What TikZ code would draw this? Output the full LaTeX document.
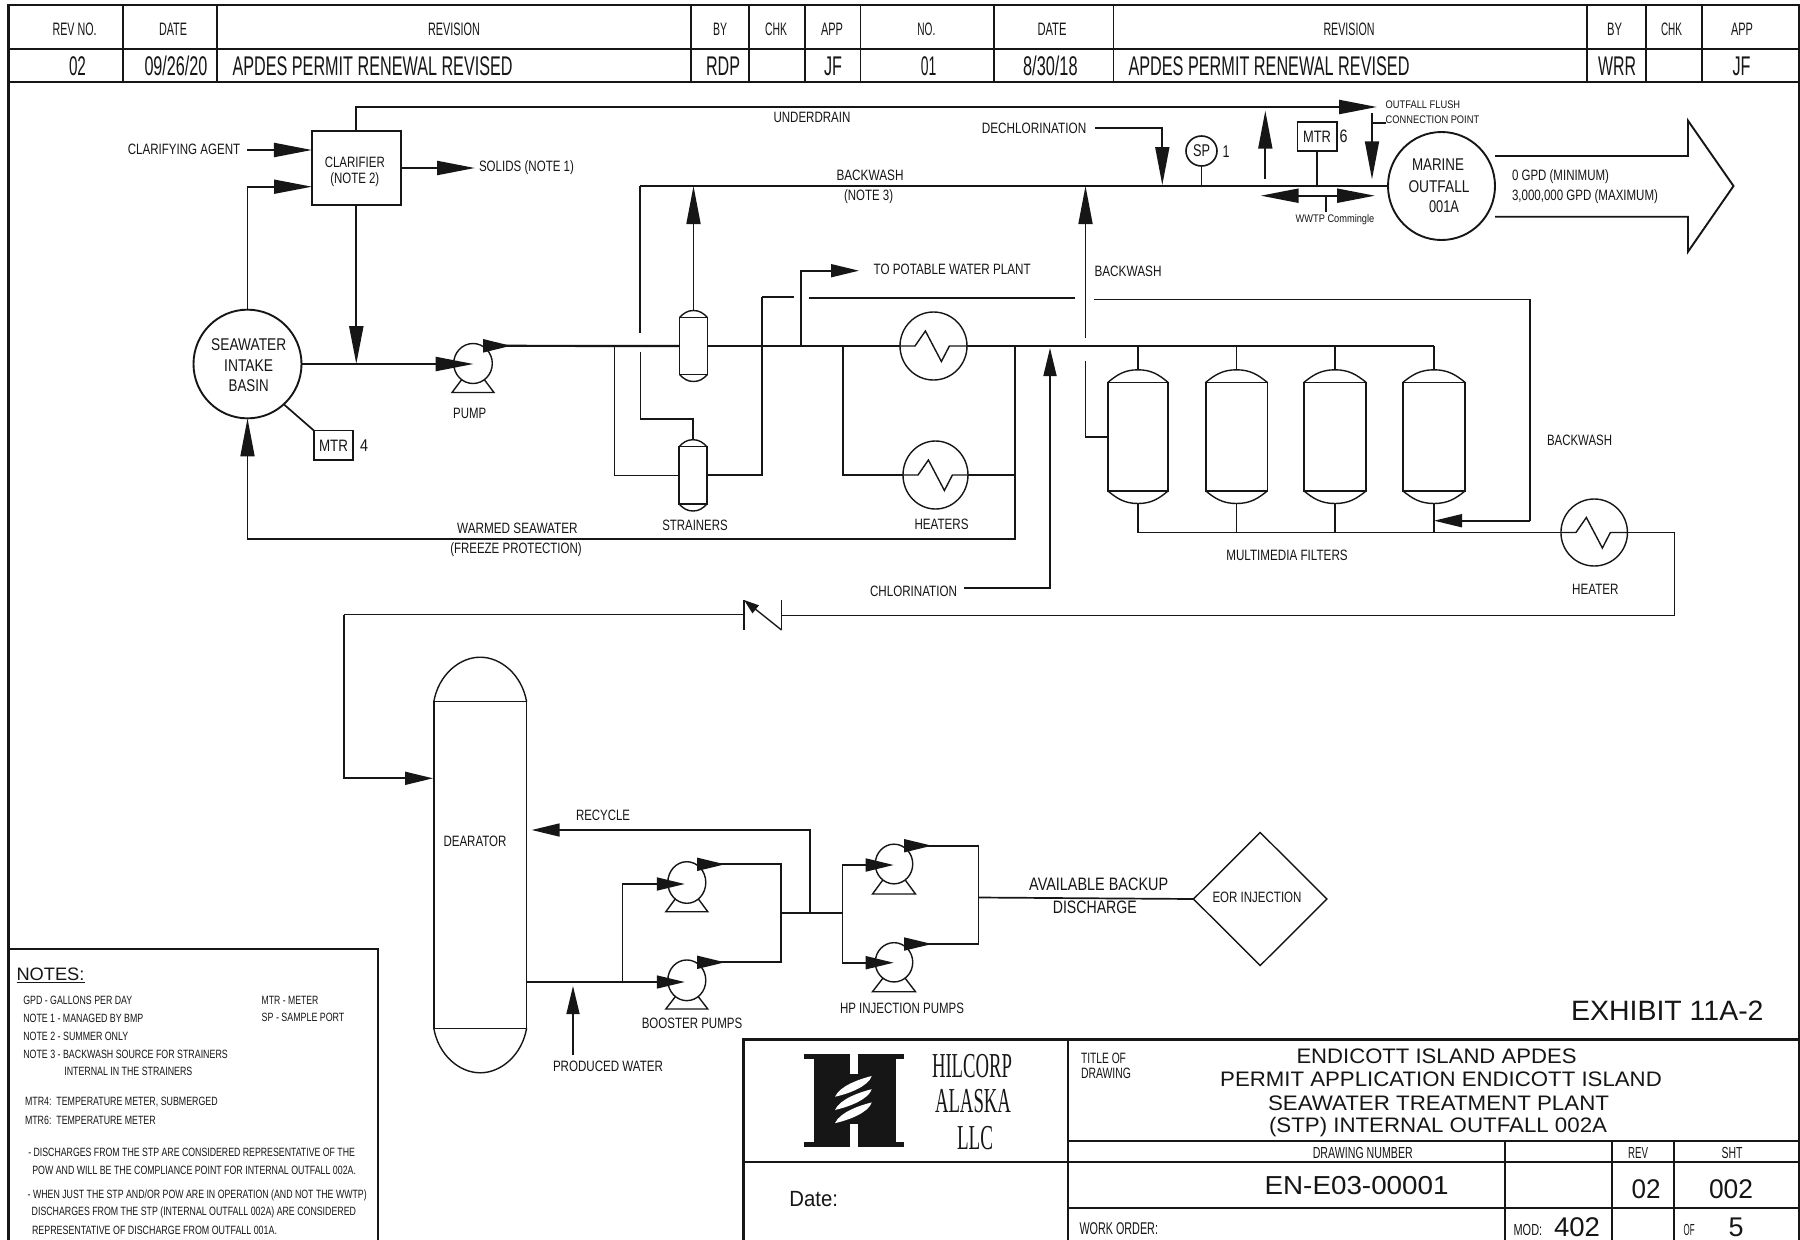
\documentclass[tikz,border=0pt]{standalone}
\usepackage{fontspec}
\usepackage{graphicx}
\usetikzlibrary{arrows.meta,shapes.geometric,calc}
\setmainfont{Liberation Sans}
\newfontfamily\logofont{Liberation Serif}
\definecolor{ink}{HTML}{161616}
\newcommand{\fs}[1]{\fontsize{#1}{#1}\selectfont}
\newcommand{\fw}[2]{\resizebox{#1pt}{\height}{#2}}
% \lb[options]{name}{x,y}{width}{text}
\newcommand{\lb}[5][]{\node[lbl,#1] (#2) at (#3) {\fw{#4}{#5}};}
% \vesselshape[shoulder]{name}{cx}{ytop}{ybot}{halfwidth}{dome}
\newcommand{\vesselshape}[6][0.3]{%
  \pgfmathsetmacro\vcy{(#4+#5)/2}\pgfmathsetmacro\vh{#5-#4}\pgfmathsetmacro\vw{2*#6}%
  \pgfmathsetmacro\cxa{#1*#6}\pgfmathsetmacro\cxb{0.45*#6}%
  \node[vesselbody,minimum width=\vw pt,minimum height=\vh pt] (#2) at (#3,\vcy) {};
  \vesseldomes{#2}{#3}{#4}{#5}
}
\newcommand{\domeh}{12.5}
\newcommand{\vesseldomes}[4]{%
  \pgfmathsetmacro\vt{#3-\domeh}\pgfmathsetmacro\vb{#4+\domeh}\pgfmathsetmacro\cy{0.6*\domeh}%
  \coordinate (#1top) at (#2,\vt);
  \coordinate (#1bot) at (#2,\vb);
  \draw[equip] (#1.north west) .. controls +(\cxa,-\cy) and +(-\cxb,0) .. (#1top)
     .. controls +(\cxb,0) and +(-\cxa,-\cy) .. (#1.north east);
  \draw[equip] (#1.south west) .. controls +(\cxa,\cy) and +(-\cxb,0) .. (#1bot)
     .. controls +(\cxb,0) and +(-\cxa,\cy) .. (#1.south east);
}
% \heatx{name}{cx}{cy}{w}{h}
\newcommand{\heatx}[5]{%
  \node[equipe,minimum width=#4pt,minimum height=#5pt] (#1) at (#2,#3) {};
  \draw[equip] (#1.west) -- ++(15,0) -- ++(10.4,-15) -- ++(16,30.5) -- ++(8,-15.5) -- (#1.east);
}
% \pumpshape{name}{cx}{cy}{w}{h}{basey offset}{half base}
\newcommand{\pumpshape}[7]{%
  \node[equipe,minimum width=#4pt,minimum height=#5pt] (#1) at (#2,#3) {};
  \draw[equip] (#1.235) -- ($(#1.center)+(-#7,#6)$) -- ($(#1.center)+(#7,#6)$) -- (#1.305);
}
\tikzset{
  x=1pt,y=-1pt,
  pipe/.style={draw=ink,line width=1.7pt},
  pipeh/.style={draw=ink,line width=2.2pt},
  equip/.style={draw=ink,line width=1.4pt},
  equipe/.style={draw=ink,line width=1.4pt,ellipse,inner sep=0pt,outer sep=0pt},
  vesselbody/.style={draw=ink,line width=1.4pt,rectangle,inner sep=0pt,outer sep=0pt},
  boxnode/.style={draw=ink,line width=1.8pt,rectangle,inner sep=0pt,outer sep=0pt,align=center},
  bigcirc/.style={draw=ink,line width=1.9pt,ellipse,inner sep=0pt,outer sep=0pt},
  gridline/.style={draw=ink,line width=1.8pt},
  gridheavy/.style={draw=ink,line width=2.4pt},
  lbl/.style={inner sep=0pt,outer sep=0pt,text=ink,font=\fs{15}},
  lft/.style={anchor=west},
  tipl/.style={-{Triangle[length=38pt,width=14pt,color=ink]}},
  tipm/.style={-{Triangle[length=28pt,width=13pt,color=ink]}},
  tips/.style={-{Triangle[length=15pt,width=10pt,color=ink]}},
}
\begin{document}
\begin{tikzpicture}
\useasboundingbox (0,0) rectangle (1800,1240);
\fill[white] (0,0) rectangle (1800,1240);
\clip (0,0) rectangle (1800,1240);

%%% frame and revision table
\draw[gridheavy] (8.6,1240) -- (8.6,5) -- (1799,5) -- (1799,1240);
\draw[gridheavy] (8.6,49) -- (1799,49);
\draw[gridheavy] (8.6,82) -- (1799,82);
\foreach \xx in {123,217,691,749,805,860.5,993.6,1113.5,1587,1645.7,1702}
  \draw[gridline] (\xx,5) -- (\xx,82);
\lb[font=\fs{18}]{hA}{74.6,29}{44}{REV NO.}
\lb[font=\fs{18}]{hB}{173,29}{28}{DATE}
\lb[font=\fs{18}]{hC}{454,29}{52}{REVISION}
\lb[font=\fs{18}]{hD}{720,29}{14}{BY}
\lb[font=\fs{18}]{hE}{776,29}{22}{CHK}
\lb[font=\fs{18}]{hF}{832,29}{22}{APP}
\lb[font=\fs{18}]{hG}{926.4,29}{18}{NO.}
\lb[font=\fs{18}]{hH}{1052,29}{29}{DATE}
\lb[font=\fs{18}]{hI}{1349,29}{51}{REVISION}
\lb[font=\fs{18}]{hJ}{1614.7,29}{15}{BY}
\lb[font=\fs{18}]{hK}{1671.5,29}{21}{CHK}
\lb[font=\fs{18}]{hL}{1742,29}{22}{APP}
\lb[font=\fs{27}]{rA}{77.5,66}{17}{02}
\lb[font=\fs{27}]{rB}{176,66}{63}{09/26/20}
\lb[font=\fs{27}]{rC}{372.6,66}{280}{APDES PERMIT RENEWAL REVISED}
\lb[font=\fs{27}]{rD}{723,66}{34}{RDP}
\lb[font=\fs{27}]{rE}{833,66}{18}{JF}
\lb[font=\fs{27}]{rF}{928.7,66}{15.5}{01}
\lb[font=\fs{27}]{rG}{1050.4,66}{54.5}{8/30/18}
\lb[font=\fs{27}]{rH}{1269,66}{281}{APDES PERMIT RENEWAL REVISED}
\lb[font=\fs{27}]{rI}{1617,66}{38}{WRR}
\lb[font=\fs{27}]{rJ}{1741.6,66}{18}{JF}

%%% equipment
\node[boxnode,minimum width=88.7pt,minimum height=74.6pt] (clarifier) at (356.3,168) {};
\node[bigcirc,minimum width=108pt,minimum height=108.7pt] (seawater) at (247.5,364) {};
\node[bigcirc,minimum width=107pt,minimum height=108pt] (marine) at (1441.5,186) {};
\node[boxnode,line width=1.6pt,minimum width=39pt,minimum height=29.5pt] (mtrfour) at (333.5,445.4) {};
\node[boxnode,line width=1.6pt,minimum width=39.4pt,minimum height=29.5pt] (mtrsix) at (1317,136.5) {};
\node[equipe,line width=1.6pt,minimum width=31pt,minimum height=30pt] (spport) at (1201.5,151) {};
\node[draw=ink,line width=1.4pt,diamond,inner sep=0pt,outer sep=0pt,aspect=1,minimum width=133.5pt,minimum height=133pt] (eor) at (1260.2,899) {};

\pumpshape{pumpA}{473}{363.5}{38.6}{40}{29}{21}
\pumpshape{boostA}{686.8}{882.5}{38}{41.6}{29.2}{21}
\pumpshape{boostB}{686.8}{980.3}{38}{40.7}{28.7}{21}
\pumpshape{hpA}{894}{864}{37.5}{39.7}{30}{21.5}
\pumpshape{hpB}{894}{962.3}{37.5}{39.3}{29.4}{21.5}

\renewcommand{\domeh}{6.8}
\vesselshape{strainerA}{693.5}{317.3}{374.7}{13.8}
\renewcommand{\domeh}{7}
\vesselshape{strainerB}{693}{446.7}{504}{14}
\renewcommand{\domeh}{12.5}
\vesselshape{filterA}{1138}{382.3}{491}{30}
\vesselshape{filterB}{1236.5}{382.3}{491}{30.7}
\vesselshape{filterC}{1335}{382.3}{491}{31}
\vesselshape{filterD}{1434}{382.3}{491}{31}
\renewcommand{\domeh}{44.5}
\vesselshape[0.1]{dearator}{480.2}{701.7}{1028.3}{46.4}

\heatx{heaterA}{933.5}{346}{67}{68}
\heatx{heaterB}{935.5}{475}{65}{68}
\heatx{heaterC}{1594.2}{532.5}{66.5}{67}

%%% named points of the pipe work
\coordinate (ud) at (1377,107);
\coordinate (agent) at (247,150);
\coordinate (clin) at (312,186.7);
\coordinate (solidsa) at (400.7,168);
\coordinate (solidsb) at (475,168);
\coordinate (pumpin) at (473.6,364);
\coordinate (pumpouts) at (484,345.8);
\coordinate (pumpout) at (511,345.8);
\coordinate (mainend) at (1434,346);
\coordinate (jbypass) at (614.4,346);
\coordinate (bwl) at (640,186);
\coordinate (bwlgap) at (640,333);
\coordinate (bwlres) at (640.5,351.5);
\coordinate (stbk) at (693,419.3);
\coordinate (jst) at (762.3,297);
\coordinate (gapa) at (794,297);
\coordinate (gapb) at (809.4,298);
\coordinate (gapc) at (1075,298);
\coordinate (gapd) at (1094,299.5);
\coordinate (rcorner) at (1530,520.7);
\coordinate (fdin) at (1434,520.7);
\coordinate (jpot) at (800.8,346);
\coordinate (potable) at (859,270.7);
\coordinate (jhtr) at (843,346);
\coordinate (jwarm) at (1015,346);
\coordinate (warmc) at (1015,539.3);
\coordinate (chl) at (964,587.7);
\coordinate (chlt) at (1050,348);
\coordinate (bwcup) at (1085.5,338);
\coordinate (bwcres) at (1085.5,361);
\coordinate (dcl) at (1095,128);
\coordinate (dclt) at (1162.3,185);
\coordinate (upa) at (1265.3,179);
\coordinate (upb) at (1265.3,110.7);
\coordinate (fla) at (1372,113);
\coordinate (flb) at (1372,179.3);
\coordinate (flc) at (1372,122.7);
\coordinate (fld) at (1385.7,122.7);
\coordinate (wwm) at (1318,195.7);
\coordinate (wwl) at (1260.7,195.7);
\coordinate (wwr) at (1375,195.7);
\coordinate (wwc) at (1326,195.7);
\coordinate (wwd) at (1326,212);
\coordinate (cvrt) at (781.5,600);
\coordinate (cvrb) at (781.5,630);
\coordinate (cvlt) at (744,600);
\coordinate (cvlb) at (744,630);
\coordinate (cvr) at (781.5,615.5);
\coordinate (cvl) at (744,614.5);
\coordinate (rtlow) at (1674.5,615.5);
\coordinate (dlc) at (344,614.5);
\coordinate (dearin) at (433,778.3);
\coordinate (dearout) at (526.5,982);
\coordinate (bBin) at (684.8,982);
\coordinate (jb) at (622.4,982);
\coordinate (bAin) at (684.8,884);
\coordinate (bAs) at (698,864.3);
\coordinate (bAo) at (725,864.3);
\coordinate (bBs) at (698,962.3);
\coordinate (bBo) at (725,962.3);
\coordinate (jm) at (780.7,913.3);
\coordinate (jh) at (842.5,913.3);
\coordinate (jr) at (810,913.3);
\coordinate (rec) at (531.7,830);
\coordinate (hAin) at (893.7,865);
\coordinate (hBin) at (893.7,962.7);
\coordinate (hAs) at (905,845.7);
\coordinate (hAo) at (932,845.7);
\coordinate (hBs) at (905,944);
\coordinate (hBo) at (932,944);
\coordinate (je) at (978.5,897.5);
\coordinate (prs) at (573,1055);
\coordinate (prt) at (573,986);

%%% connectors, upper part
\draw[pipeh,tipl] (clarifier.north) |- (ud);
\draw[pipeh,tipl] (agent) -- (agent -| clarifier.west);
\draw[pipe,tipl] (seawater.north) |- (clin);
\draw[pipeh,tipl] (solidsa) -- (solidsb);
\draw[pipeh,tipl] (clarifier.south) -- (clarifier.south |- pumpin);
\draw[pipeh,tipl] (seawater.east) -- (pumpin);
\draw[pipeh] (pumpouts) -- (strainerA.west);
\draw[pipeh,tipm] (pumpouts) -- (pumpout);
\draw[pipe] (strainerA.east) -- (heaterA.west);
\draw[pipe] (heaterA.east) -- (mainend);
\draw[pipeh] (bwl) -- (marine.west);
\draw[pipe] (bwl) -- (bwlgap);
\draw[pipe] (bwlres) |- (stbk) -- (strainerBtop);
\draw[pipe,tipl] (strainerAtop) -- (strainerAtop |- bwl);
\draw[equip] (jbypass) |- (strainerB.west);
\draw[pipeh] (strainerB.east) -| (jst);
\draw[pipe] (jst) -- (gapa);
\draw[pipe] (gapb) -- (gapc);
\draw[pipe] (gapd) -| (rcorner);
\draw[pipe,tipm] (rcorner) -- (fdin);
\draw[pipe,tipm] (jpot) |- (potable);
\draw[equip] (jhtr) |- (heaterB.west);
\draw[equip] (heaterB.east) -| (jwarm);
\draw[pipe,tipl] (jwarm) -- (warmc) -- (warmc -| seawater.south) -- (seawater.south);
\draw[pipe,tipm] (chl) -| (chlt);
\draw[pipe,tipl] (bwcup) -- (bwcup |- bwl);
\draw[pipe] (bwcres) |- (filterA.west);
\draw[pipe,tipl] (dcl) -| (dclt);
\draw[pipe,tipl] (upa) -- (upb);
\draw[pipe,tipl] (fla) -- (flb);
\draw[pipe] (flc) -- (fld);
\draw[pipeh,tipl] (wwm) -- (wwl);
\draw[pipeh,tipl] (wwm) -- (wwr);
\draw[pipe] (wwc) -- (wwd);
\draw[pipe] (spport.south) -- (spport.south |- bwl);
\draw[pipe] (mtrsix.south) -- (mtrsix.south |- bwl);
\draw[pipe] (seawater.-48) -- (mtrfour.north west);
\foreach \ff in {filterA,filterB,filterC,filterD}{
  \draw[equip] (\ff top |- mainend) -- (\ff top);
  \draw[equip] (\ff bot) -- (\ff bot |- heaterC.west);
}
\draw[pipe] (filterAbot |- heaterC.west) -- (heaterC.west);
\draw[pipe] (heaterC.east) -| (rtlow) -- (cvr);
\draw[equip] (cvrt) -- (cvrb);
\draw[equip] (cvlt) -- (cvlb);
\draw[equip,tips] (cvrb) -- (cvlt);
\draw[pipe] (cvl) -- (dlc);
\draw[pipe,tipm] (dlc) |- (dearin);

%%% big outfall arrow
\draw[draw=ink,line width=1.9pt,line join=miter] (1495,156) -- (1688,156) -- (1688,120.7) -- (1733.5,186) -- (1688,251.7) -- (1688,216.7) -- (1495,216.7);

%%% connectors, lower part
\draw[equip,tipm] (dearout) -- (bBin);
\draw[pipe,tipm] (jb) |- (bAin);
\draw[pipe,tipm] (bAs) -- (bAo);
\draw[pipe,tipm] (bBs) -- (bBo);
\draw[pipe] (bAs) -| (jm);
\draw[pipe] (bBs) -| (jm);
\draw[pipeh] (jm) -- (jh);
\draw[pipe,tipm] (jh) |- (hAin);
\draw[pipe,tipm] (jh) |- (hBin);
\draw[pipe,tipm] (jr) |- (rec);
\draw[pipe,tipm] (hAs) -- (hAo);
\draw[pipe,tipm] (hBs) -- (hBo);
\draw[pipe] (hAs) -| (je);
\draw[pipe] (hBs) -| (je);
\draw[pipe] (je) -- (eor.west);
\draw[equip,tipm] (prs) -- (prt);

%%% labels, process
\lb{tagent}{184,149}{112.5}{CLARIFYING AGENT}
\lb{tsolids}{526.5,168}{95}{SOLIDS (NOTE 1)}
\lb{tclara}{354.8,162}{60}{CLARIFIER}
\lb{tclarb}{354.8,180}{49}{(NOTE 2)}
\lb{tunder}{812,117}{77}{UNDERDRAIN}
\lb{tbwa}{870,175.5}{67}{BACKWASH}
\lb{tbwb}{868.6,196.5}{49}{(NOTE 3)}
\lb[font=\fs{17}]{tseaa}{248.7,344.3}{75}{SEAWATER}
\lb[font=\fs{17}]{tseab}{248.7,366}{49}{INTAKE}
\lb[font=\fs{17}]{tseac}{248.7,385.7}{40}{BASIN}
\lb{tpump}{469.7,413}{33}{PUMP}
\lb[font=\fs{16.5}]{tmtra}{333.5,445.5}{29}{MTR}
\lb[font=\fs{17}]{tfour}{364,445.7}{8}{4}
\lb{twarma}{517.4,528.3}{120.5}{WARMED SEAWATER}
\lb{twarmb}{516,550}{131.5}{(FREEZE PROTECTION)}
\lb{tstr}{695,525}{65.4}{STRAINERS}
\lb{thtr}{941.6,524}{54}{HEATERS}
\lb{tchl}{913.5,591}{87}{CHLORINATION}
\lb[lft]{tpot}{873.7,269}{157}{TO POTABLE WATER PLANT}
\lb{tdcl}{1034,128.3}{104.5}{DECHLORINATION}
\lb{tbwc}{1128,271.7}{67}{BACKWASH}
\lb[font=\fs{17}]{tsp}{1201.5,151}{17}{SP}
\lb[font=\fs{17}]{tone}{1226,151.7}{7}{1}
\lb[font=\fs{16.5}]{tmtrb}{1317,136.5}{28}{MTR}
\lb[font=\fs{18}]{tsix}{1343.7,136.7}{8}{6}
\lb[font=\fs{11}]{twwtp}{1335,219.3}{78.6}{WWTP Commingle}
\lb[lft,font=\fs{11}]{tofa}{1385.7,105}{74.5}{OUTFALL FLUSH}
\lb[lft,font=\fs{11}]{tofb}{1385.7,119.3}{93.5}{CONNECTION POINT}
\lb[font=\fs{17}]{tmara}{1438,165}{52}{MARINE}
\lb[font=\fs{17}]{tmarb}{1439,186.7}{61}{OUTFALL}
\lb[font=\fs{17}]{tmarc}{1444,206.7}{30}{001A}
\lb[lft]{tgpa}{1512,176.7}{97}{0 GPD (MINIMUM)}
\lb[lft]{tgpb}{1512,196.7}{146}{3,000,000 GPD (MAXIMUM)}
\lb{tbwd}{1579.6,440}{65}{BACKWASH}
\lb{tfilt}{1287,555}{121.4}{MULTIMEDIA FILTERS}
\lb{thtc}{1595.4,589}{46.4}{HEATER}
\lb{trec}{603,815}{54}{RECYCLE}
\lb{tdea}{475,841}{63}{DEARATOR}
\lb[font=\fs{18}]{tava}{1098.7,884}{139}{AVAILABLE BACKUP}
\lb[font=\fs{18}]{tavb}{1094.8,907.7}{84}{DISCHARGE}
\lb{teor}{1257,897}{89}{EOR INJECTION}
\lb{tboost}{692,1023}{100.5}{BOOSTER PUMPS}
\lb{thp}{902,1008.7}{124}{HP INJECTION PUMPS}
\lb{tprod}{608,1066.7}{110}{PRODUCED WATER}

%%% notes box
\draw[gridheavy] (8.6,949) -- (378,949) -- (378,1240);
\lb[lft,font=\fs{18}]{nhead}{16.5,974}{68}{NOTES:}
\draw[draw=ink,line width=1.2pt] (nhead.west |- 0,982.7) -- (84.5,982.7);
\lb[lft,font=\fs{12}]{na}{23.3,1000.7}{109}{GPD - GALLONS PER DAY}
\lb[lft,font=\fs{12}]{nb}{23.3,1018}{120}{NOTE 1 - MANAGED BY BMP}
\lb[lft,font=\fs{12}]{nc}{23.3,1036.7}{105}{NOTE 2 - SUMMER ONLY}
\lb[lft,font=\fs{12}]{nd}{23.3,1054.7}{204.5}{NOTE 3 - BACKWASH SOURCE FOR STRAINERS}
\lb[lft,font=\fs{12}]{ne}{64.3,1071}{128}{INTERNAL IN THE STRAINERS}
\lb[lft,font=\fs{12}]{nf}{261.7,1000}{56.7}{MTR - METER}
\lb[lft,font=\fs{12}]{ng}{261.7,1017}{82.7}{SP - SAMPLE PORT}
\lb[lft,font=\fs{12}]{nh}{25,1101.7}{192.7}{MTR4:\ \ TEMPERATURE METER, SUBMERGED}
\lb[lft,font=\fs{12}]{ni}{25,1120}{130.7}{MTR6:\ \ TEMPERATURE METER}
\lb[lft,font=\fs{12}]{nj}{28.3,1152.3}{326.7}{- DISCHARGES FROM THE STP ARE CONSIDERED REPRESENTATIVE OF THE}
\lb[lft,font=\fs{12}]{nk}{32.3,1170.7}{323.7}{POW AND WILL BE THE COMPLIANCE POINT FOR INTERNAL OUTFALL 002A.}
\lb[lft,font=\fs{12}]{nl}{27.7,1195}{339}{- WHEN JUST THE STP AND/OR POW ARE IN OPERATION (AND NOT THE WWTP)}
\lb[lft,font=\fs{12}]{nm}{31.7,1212.7}{324.3}{DISCHARGES FROM THE STP (INTERNAL OUTFALL 002A) ARE CONSIDERED}
\lb[lft,font=\fs{12}]{nn}{32,1230}{245}{REPRESENTATIVE OF DISCHARGE FROM OUTFALL 001A.}

%%% title block
\draw[gridheavy] (743.6,1240) -- (743.6,1039.3) -- (1799,1039.3);
\draw[gridline] (1068,1039.3) -- (1068,1240);
\draw[gridheavy] (743.6,1161.7) -- (1799,1161.7);
\draw[gridheavy] (1068,1141) -- (1799,1141);
\draw[gridheavy] (1068,1207.7) -- (1799,1207.7);
\foreach \xx in {1504.7,1612,1674}
  \draw[gridline] (\xx,1141) -- (\xx,1240);
\lb[font=\fs{28}]{texh}{1667.3,1011}{192.5}{EXHIBIT 11A-2}
\lb[lft,font=\fs{15}]{tta}{1081,1058.7}{45}{TITLE OF}
\lb[lft,font=\fs{15}]{ttb}{1081,1073}{50}{DRAWING}
\lb[font=\fs{21}]{ttc}{1436.5,1056.7}{280}{ENDICOTT ISLAND APDES}
\lb[font=\fs{21}]{ttd}{1441,1079.3}{441.6}{PERMIT APPLICATION ENDICOTT ISLAND}
\lb[font=\fs{21}]{tte}{1438.5,1103.3}{341}{SEAWATER TREATMENT PLANT}
\lb[font=\fs{21}]{ttf}{1438,1127.3}{338}{(STP) INTERNAL OUTFALL 002A}
\lb[font=\fs{16}]{ttg}{1362.8,1152.7}{100}{DRAWING NUMBER}
\lb[font=\fs{16}]{tth}{1638,1152.7}{20}{REV}
\lb[font=\fs{16}]{tti}{1732,1152.7}{21}{SHT}
\lb[font=\fs{26}]{ttj}{1356.6,1186}{184}{EN-E03-00001}
\lb[font=\fs{27}]{ttk}{1646,1189.3}{29}{02}
\lb[font=\fs{27}]{ttl}{1731,1189.3}{44}{002}
\lb[lft,font=\fs{22}]{ttm}{789.4,1199}{48.6}{Date:}
\lb[lft,font=\fs{17}]{ttn}{1079.5,1229}{78.5}{WORK ORDER:}
\lb[lft,font=\fs{16}]{tto}{1513.6,1229.5}{28.6}{MOD:}
\lb[lft,font=\fs{27}]{ttp}{1554,1227}{46}{402}
\lb[lft,font=\fs{16}]{ttq}{1683.6,1230}{11}{OF}
\lb[font=\fs{27}]{ttr}{1736,1227}{15}{5}

%%% logo
\fill[ink] (804,1054) rectangle (850,1059.3);
\fill[ink] (857.7,1054) rectangle (904.3,1059.3);
\fill[ink] (804,1141.7) rectangle (850,1146.7);
\fill[ink] (857.7,1141.7) rectangle (904.3,1146.7);
\fill[ink] (814,1054) rectangle (850,1146.7);
\fill[ink] (857.7,1054) rectangle (896,1146.7);
\fill[ink] (848,1074) rectangle (860,1124);
\foreach \dd in {0,13.2,26.4}{
  \fill[white] (835,1096.7+\dd) .. controls +(5,-11) and +(-12,3) .. (871.7,1076+\dd)
     .. controls +(-3,10) and +(14,-3) .. (835,1096.7+\dd) -- cycle;
}
\node[lbl,font={\logofont\fs{35}}] (lga) at (972,1066.5) {\fw{80}{HILCORP}};
\node[lbl,font={\logofont\fs{35}}] (lgb) at (973,1101.5) {\fw{76}{ALASKA}};
\node[lbl,font={\logofont\fs{35}}] (lgc) at (975,1138) {\fw{36}{LLC}};
\end{tikzpicture}
\end{document}
